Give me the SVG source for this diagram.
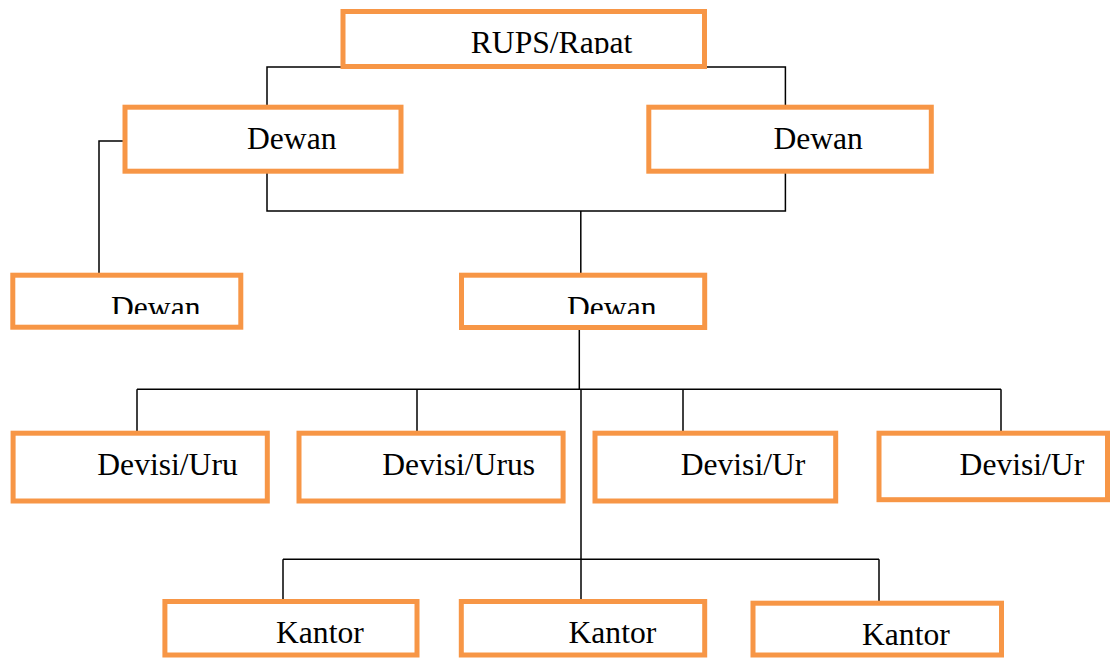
<svg xmlns="http://www.w3.org/2000/svg" width="1110" height="658" viewBox="0 0 1110 658">
<style>
.box{fill:#fff;stroke:#F79646;stroke-width:5}
.lbl{font-family:"Liberation Serif","Times New Roman",serif;font-size:31.6px;fill:#000}
.conn{fill:none;stroke:#000;stroke-width:1.5}
</style>
<defs>
<clipPath id="clipTop"><rect x="0" y="0" width="1110" height="54"/></clipPath>
<clipPath id="clipMid"><rect x="0" y="0" width="1110" height="314"/></clipPath>
</defs>
<rect width="1110" height="658" fill="#fff"/>
<g id="connectors" class="conn">
<path d="M344,67 H267 V105"/>
<path d="M705,67 H785.4 V105"/>
<path d="M126,141 H99 V273"/>
<path d="M267,171 V211 H785.4 V171"/>
<path d="M580.8,211 V273"/>
<path d="M579.3,327 V389.3"/>
<path d="M137,389.3 H1001"/>
<path d="M137,389.3 V431"/>
<path d="M417,389.3 V431"/>
<path d="M683,389.3 V431"/>
<path d="M1001,389.3 V431"/>
<path d="M581,389.3 V599"/>
<path d="M283,559.3 H879"/>
<path d="M283,559.3 V599"/>
<path d="M879,559.3 V601"/>
</g>
<g id="rups"><rect class="box" x="343" y="11.5" width="361.5" height="55"/><text class="lbl" x="470.8" y="53" clip-path="url(#clipTop)">RUPS/Rapat</text></g>
<g id="dewan-left"><rect class="box" x="125" y="107.2" width="276" height="64"/><text class="lbl" x="247" y="149">Dewan</text></g>
<g id="dewan-right"><rect class="box" x="648.8" y="107.2" width="282.5" height="64"/><text class="lbl" x="773.4" y="149">Dewan</text></g>
<g id="dewan-bottom-left"><rect class="box" x="12.8" y="275.2" width="228" height="52"/><text class="lbl" x="111" y="317.7" clip-path="url(#clipMid)">Dewan</text></g>
<g id="dewan-center"><rect class="box" x="461.5" y="275.2" width="243.2" height="52.3"/><text class="lbl" x="567" y="317.7" clip-path="url(#clipMid)">Dewan</text></g>
<g id="devisi-1"><rect class="box" x="13.1" y="433.2" width="254.2" height="67.8"/><text class="lbl" x="97.3" y="475">Devisi/Uru</text></g>
<g id="devisi-2"><rect class="box" x="299" y="433.2" width="264.1" height="67.8"/><text class="lbl" x="382.3" y="475">Devisi/Urus</text></g>
<g id="devisi-3"><rect class="box" x="595" y="433.2" width="240.7" height="67.8"/><text class="lbl" x="680.7" y="475">Devisi/Ur</text></g>
<g id="devisi-4"><rect class="box" x="879" y="433.2" width="228.5" height="66.5"/><text class="lbl" x="959.6" y="475">Devisi/Ur</text></g>
<g id="kantor-1"><rect class="box" x="164.9" y="601.5" width="252.1" height="53.5"/><text class="lbl" x="276" y="643">Kantor</text></g>
<g id="kantor-2"><rect class="box" x="461.3" y="601.5" width="243.4" height="53.5"/><text class="lbl" x="568.5" y="643">Kantor</text></g>
<g id="kantor-3"><rect class="box" x="753" y="603.2" width="248.5" height="51.8"/><text class="lbl" x="862" y="645">Kantor</text></g>
</svg>
